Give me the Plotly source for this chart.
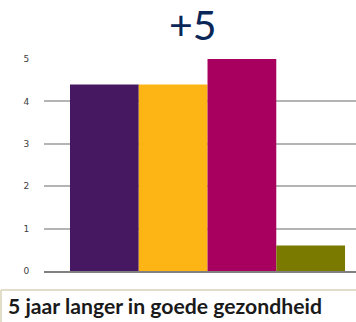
import plotly.graph_objects as go

series_names = ["Reeks 1", "Reeks 2", "Reeks 3", "Reeks 4"]
series_values = [4.4, 4.4, 5.0, 0.6]
series_colors = ["#461862", "#FDB515", "#A8005E", "#7A7A00"]
category = [""]
y_ticks = [0, 1, 2, 3, 4, 5]
title_text = "+5"
footer_text = "5 jaar langer in goede gezondheid"

fig = go.Figure()
for name, val, col in zip(series_names, series_values, series_colors):
    fig.add_trace(go.Bar(x=category, y=[val], name=name, marker=dict(color=col, line=dict(width=0))))

fig.update_layout(
    width=356, height=322,
    margin=dict(l=44, r=0, t=59, b=51),
    paper_bgcolor="white", plot_bgcolor="white",
    barmode="group", bargap=0.159, bargroupgap=0,
    showlegend=False,
    xaxis=dict(type="category", range=[-0.5, 0.454], showticklabels=False,
               showgrid=False, showline=True, linecolor="#808080", linewidth=2,
               zeroline=False, ticks=""),
    yaxis=dict(range=[0, 5], tickvals=y_ticks, showgrid=True, gridcolor="#B4B4B4",
               gridwidth=2, zeroline=False, showline=False, ticks="outside",
               ticklen=0, ticklabelstandoff=12,
               tickfont=dict(family="DejaVu Sans", size=9, color="#404040")),
    annotations=[
        dict(text=title_text, xref="paper", yref="paper", x=(193 - 44) / 312, y=1,
             xanchor="center", yanchor="bottom", yshift=8, showarrow=False,
             font=dict(family="Lato", size=41, color="#0A2758")),
        dict(text="<b>" + footer_text + "</b>", xref="paper", yref="paper",
             x=-37 / 312, xanchor="left", y=-0.1, yanchor="top", showarrow=False,
             borderpad=0,
             font=dict(family="Lato", size=21.2, color="#1A1A1A")),
    ],
    shapes=[
        dict(type="line", xref="paper", yref="paper", x0=-43 / 312, x1=1,
             y0=-19 / 212, y1=-19 / 212, line=dict(color="#E2DDC8", width=2)),
        dict(type="line", xref="paper", yref="paper", x0=-43 / 312, x1=-43 / 312,
             y0=-19 / 212, y1=-51 / 212, line=dict(color="#E2DDC8", width=2)),
    ],
)

fig.write_html("out.html")
